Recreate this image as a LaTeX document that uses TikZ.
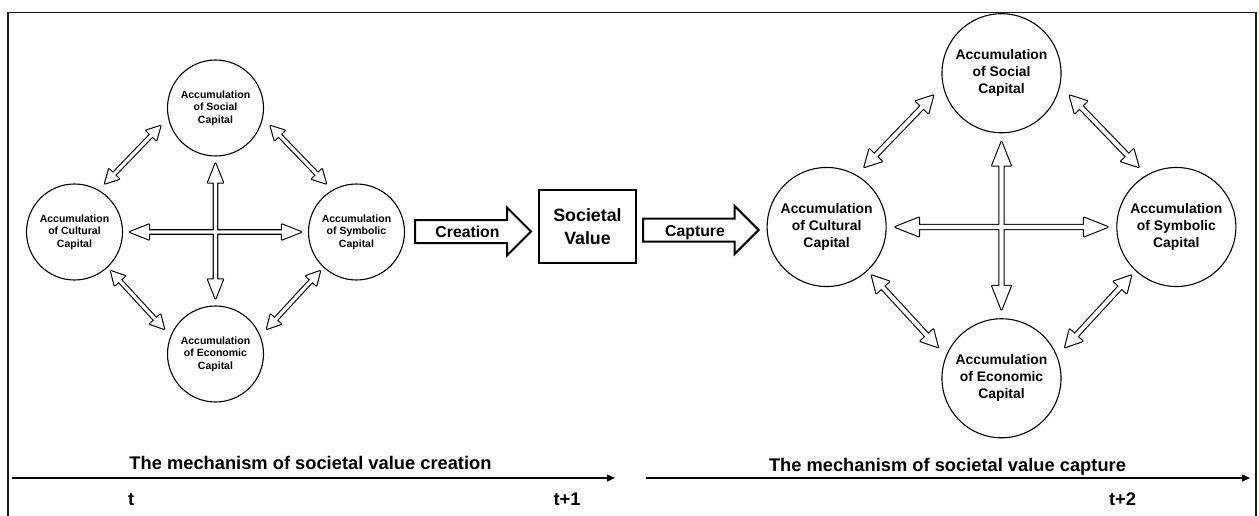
\documentclass[tikz,border=0pt]{standalone}
\usepackage{fontspec}
\setmainfont{Liberation Sans}
\usetikzlibrary{calc,arrows.meta}

% Arrow outlines built as closed polygons between two points
\tikzset{
  gapa/.store in=\ArrGapA, gapb/.store in=\ArrGapB,
  headlen/.store in=\ArrHeadLen, headhalf/.store in=\ArrHeadHalf,
  shafthalf/.store in=\ArrShaftHalf,
  gapa=0pt, gapb=0pt, headlen=12pt, headhalf=6pt, shafthalf=2pt,
  twohead/.style={to path={
    ($(\tikztostart)!{\ArrGapA}!(\tikztotarget)$)
    -- ($(\tikztostart)!{\ArrGapA+\ArrHeadLen}!(\tikztotarget)!{\ArrHeadHalf}!90:(\tikztotarget)$)
    -- ($(\tikztostart)!{\ArrGapA+\ArrHeadLen}!(\tikztotarget)!{\ArrShaftHalf}!90:(\tikztotarget)$)
    -- ($(\tikztotarget)!{\ArrGapB+\ArrHeadLen}!(\tikztostart)!{\ArrShaftHalf}!-90:(\tikztostart)$)
    -- ($(\tikztotarget)!{\ArrGapB+\ArrHeadLen}!(\tikztostart)!{\ArrHeadHalf}!-90:(\tikztostart)$)
    -- ($(\tikztotarget)!{\ArrGapB}!(\tikztostart)$)
    -- ($(\tikztotarget)!{\ArrGapB+\ArrHeadLen}!(\tikztostart)!{\ArrHeadHalf}!90:(\tikztostart)$)
    -- ($(\tikztotarget)!{\ArrGapB+\ArrHeadLen}!(\tikztostart)!{\ArrShaftHalf}!90:(\tikztostart)$)
    -- ($(\tikztostart)!{\ArrGapA+\ArrHeadLen}!(\tikztotarget)!{\ArrShaftHalf}!-90:(\tikztotarget)$)
    -- ($(\tikztostart)!{\ArrGapA+\ArrHeadLen}!(\tikztotarget)!{\ArrHeadHalf}!-90:(\tikztotarget)$)
    -- cycle}},
  onehead/.style={to path={
    ($(\tikztostart)!{\ArrGapA}!(\tikztotarget)!{\ArrShaftHalf}!90:(\tikztotarget)$)
    -- ($(\tikztotarget)!{\ArrGapB+\ArrHeadLen}!(\tikztostart)!{\ArrShaftHalf}!-90:(\tikztostart)$)
    -- ($(\tikztotarget)!{\ArrGapB+\ArrHeadLen}!(\tikztostart)!{\ArrHeadHalf}!-90:(\tikztostart)$)
    -- ($(\tikztotarget)!{\ArrGapB}!(\tikztostart)$)
    -- ($(\tikztotarget)!{\ArrGapB+\ArrHeadLen}!(\tikztostart)!{\ArrHeadHalf}!90:(\tikztostart)$)
    -- ($(\tikztotarget)!{\ArrGapB+\ArrHeadLen}!(\tikztostart)!{\ArrShaftHalf}!90:(\tikztostart)$)
    -- ($(\tikztostart)!{\ArrGapA}!(\tikztotarget)!{\ArrShaftHalf}!-90:(\tikztotarget)$)
    -- cycle}},
  capital/.style={circle, draw, line width=1.1pt, inner sep=0pt, align=center},
  linkline/.style={draw=black, line width=2.2pt, line join=round},
  linkfill/.style={fill=white},
  valuebox/.style={draw, line width=2pt, minimum width=97pt, minimum height=73pt,
    inner sep=0pt, align=center, font=\bfseries\fontsize{17.8}{22.3}\selectfont},
  fatarrow/.style={draw, fill=white, line width=2pt, onehead,
    headlen=24pt, headhalf=24pt, shafthalf=11.5pt},
  fatlabel/.style={anchor=base, inner sep=0pt, font=\bfseries\fontsize{15.8}{18}\selectfont},
  timeline/.style={line width=1.3pt, -{Triangle[length=8pt,width=7pt]}},
  timelabel/.style={anchor=base, inner sep=0pt, font=\bfseries\fontsize{18.3}{22}\selectfont},
  outerframe/.style={line width=1.6pt, draw=black!90},
}

% Links of one wheel; #1 prefix, #2 scale, #3 drawing pass
\newcommand{\capitallinks}[3]{%
  \path[#3, twohead, headlen=19pt*#2, headhalf=7.5pt*#2, shafthalf=1.7pt*#2]
    (#1cul.east) to[gapa=7pt*#2, gapb=7pt*#2] (#1sym.west)
    (#1soc.south) to[gapa=7pt*#2, gapb=7pt*#2] (#1eco.north);
  \path[#3, twohead, headlen=13pt*#2, headhalf=7pt*#2, shafthalf=1.6pt*#2]
    (#1cul.60) to[gapa=9pt*#2, gapb=11pt*#2] (#1soc.192)
    (#1soc.-12) to[gapa=11pt*#2, gapb=9pt*#2] (#1sym.120)
    (#1cul.-47) to[gapa=5pt*#2, gapb=9.5pt*#2] (#1eco.158)
    (#1sym.-133) to[gapa=5pt*#2, gapb=9.5pt*#2] (#1eco.22);
}

% Four capitals around a cross; #1 prefix, #2/#3 centre, #4 scale, #5 font size
\newcommand{\capitalwheel}[5]{%
  \node[capital, minimum size=96pt*#4, font=\bfseries#5] (#1soc) at ({#2}, {#3+124*#4})
    {Accumulation\\of Social\\Capital};
  \node[capital, minimum size=96pt*#4, font=\bfseries#5] (#1cul) at ({#2-141*#4}, {#3})
    {Accumulation\\of Cultural\\Capital};
  \node[capital, minimum size=96pt*#4, font=\bfseries#5] (#1sym) at ({#2+141*#4}, {#3})
    {Accumulation\\of Symbolic\\Capital};
  \node[capital, minimum size=96pt*#4, font=\bfseries#5] (#1eco) at ({#2}, {#3-122*#4})
    {Accumulation\\of Economic\\Capital};
  \capitallinks{#1}{#4}{linkline}
  \capitallinks{#1}{#4}{linkfill}
}

\begin{document}
\begin{tikzpicture}[x=1pt, y=1pt]
\useasboundingbox (0,0) rectangle (1259,-516);

% outer frame, open at the bottom
\draw[outerframe] (8,-516) -- (8,-12.5) -- (1256,-12.5) -- (1256,-516);

% the two wheels of capitals
\capitalwheel{L}{215.5}{-232}{1}{\fontsize{10.5}{12.7}\selectfont}
\capitalwheel{R}{1001.5}{-227}{1.24}{\fontsize{13.9}{17}\selectfont}

% societal value in between
\node[valuebox] (val) at (587.5,-226.5) {Societal\\Value};

\draw[fatarrow] ([yshift=0.5pt]Lsym.east) to[gapa=10pt, gapb=7pt] ([yshift=-5pt]val.west);
\draw[fatarrow] ([yshift=-3.5pt]val.east) to[gapa=6pt, gapb=8pt] ([yshift=-3pt]Rcul.west);
\node[fatlabel] (creation) at (467.5,-237.5) {Creation};
\node[fatlabel] (capture) at (695,-236.7) {Capture};

% time axis
\coordinate (tA0) at (12,-478);
\coordinate (tA1) at (615,-478);
\coordinate (tB0) at (646,-478);
\coordinate (tB1) at (1250,-478);
\draw[timeline] (tA0) -- (tA1);
\draw[timeline] (tB0) -- (tB1);

\node[timelabel] (mechA) at (310.5,-469) {The mechanism of societal value creation};
\node[timelabel] (mechB) at (947.5,-471) {The mechanism of societal value capture};
\node[timelabel, anchor=base west] (t0) at (128,-505) {t};
\node[timelabel] (t1) at (567,-505) {t+1};
\node[timelabel] (t2) at (1122.5,-505) {t+2};
\end{tikzpicture}
\end{document}
